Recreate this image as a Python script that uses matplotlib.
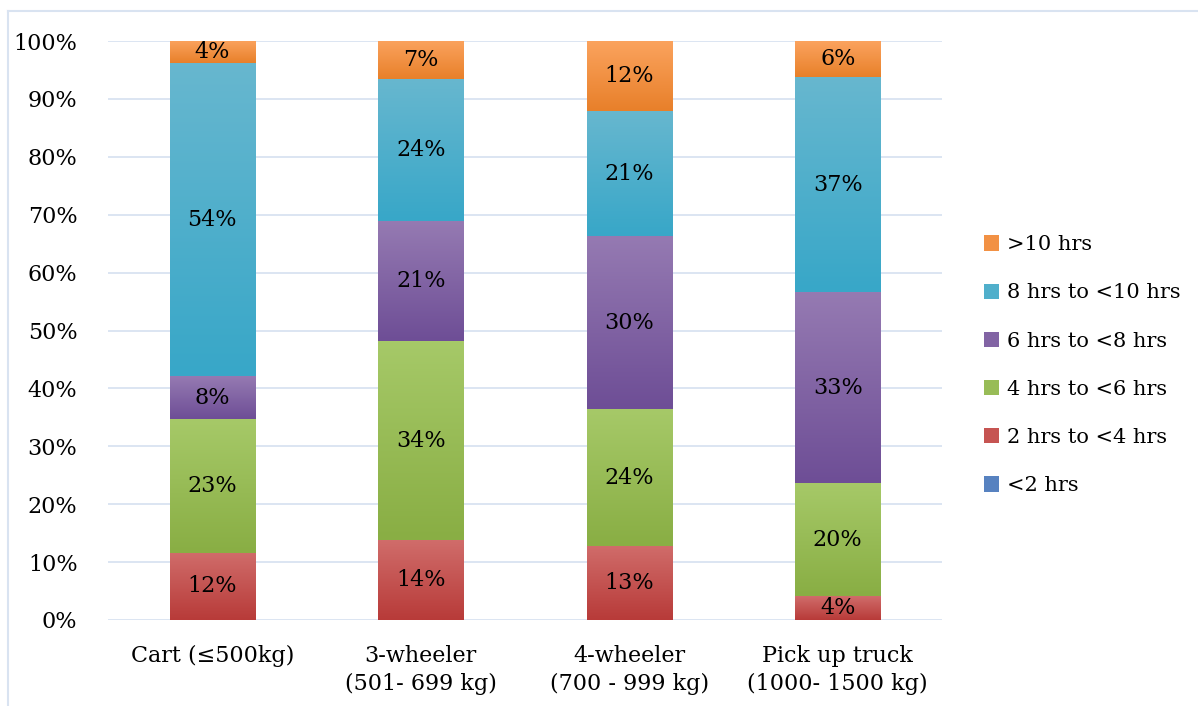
import matplotlib.pyplot as plt
import matplotlib
import numpy as np
from matplotlib.colors import LinearSegmentedColormap
from matplotlib.lines import Line2D
from matplotlib.patches import Patch

plt.rcParams['font.family'] = ['DejaVu Serif']

categories = ['Cart (≤500kg)', '3-wheeler\n(501- 699 kg)', '4-wheeler\n(700 - 999 kg)', 'Pick up truck\n(1000- 1500 kg)']
series = ['<2 hrs', '2 hrs to <4 hrs', '4 hrs to <6 hrs', '6 hrs to <8 hrs', '8 hrs to <10 hrs', '>10 hrs']
lt2 = [0, 0, 0, 0]
h2_4 = [11.6, 13.8, 12.8, 4.1]
h4_6 = [23.1, 34.4, 23.6, 19.6]
h6_8 = [7.4, 20.7, 29.9, 32.9]
h8_10 = [54.1, 24.5, 21.6, 37.2]
gt10 = [3.8, 6.6, 12.1, 6.2]
labels = [['', '', '', ''],
          ['12%', '14%', '13%', '4%'],
          ['23%', '34%', '24%', '20%'],
          ['8%', '21%', '30%', '33%'],
          ['54%', '24%', '21%', '37%'],
          ['4%', '7%', '12%', '6%']]

# (top colour, bottom colour) for the Excel-like gradient
grads = [('#6F97D0', '#3F6FB0'),
         ('#D06C6A', '#B83B39'),
         ('#A6C968', '#89AE44'),
         ('#957AB2', '#6E4E96'),
         ('#67B7CF', '#38A7C8'),
         ('#FBA35E', '#E8802A')]
mids = ['#5782C0', '#C65452', '#98BC57', '#8264A4', '#50AFCB', '#F29144']

fig = plt.figure(figsize=(11.98, 7.06), dpi=100)
ax = fig.add_axes([108/1198, 86/706, 834/1198, 579/706])

data = [lt2, h2_4, h4_6, h6_8, h8_10, gt10]
x = np.arange(len(categories))
bottom = np.zeros(len(categories))
width = 0.41
for i, vals in enumerate(data):
    vals = np.array(vals) / 100.0
    top_c, bot_c = grads[i]
    bars = ax.bar(x, vals, width, bottom=bottom, color=bot_c, zorder=2)
    cmap = LinearSegmentedColormap.from_list('g%d' % i, [bot_c, top_c])
    for j, b in enumerate(bars):
        if vals[j] <= 0:
            continue
        x0 = b.get_x()
        y0 = b.get_y()
        im = ax.imshow(np.linspace(0, 1, 64).reshape(-1, 1), cmap=cmap, origin='lower',
                       extent=[x0, x0 + b.get_width(), y0, y0 + b.get_height()],
                       aspect='auto', zorder=3, interpolation='bilinear')
        im.set_clip_path(b)
        if labels[i][j]:
            ax.text(x[j], y0 + b.get_height() / 2, labels[i][j], ha='center', va='center',
                    fontsize=16, color='#000000', zorder=4)
    bottom += vals

ax.set_xlim(-0.5, 3.5)
ax.set_ylim(0, 1)
ax.set_yticks(np.arange(0, 1.01, 0.1))
ax.set_yticklabels(['%d%%' % v for v in range(0, 101, 10)], fontsize=16)
ax.set_xticks(x)
ax.set_xticklabels(categories, fontsize=16, linespacing=1.35)
ax.tick_params(length=0, pad=18)
ax.tick_params(axis='y', pad=22)
ax.grid(axis='y', color='#D9E3F1', lw=1.3, zorder=0)
for s in ax.spines.values():
    s.set_visible(False)

handles = [Patch(facecolor=c) for c in mids[::-1]]
leg = ax.legend(handles, series[::-1], loc='center left', bbox_to_anchor=(1.04, 0.44),
                borderaxespad=0, frameon=False, fontsize=15, handlelength=0.75,
                handleheight=0.75, handletextpad=0.35, labelspacing=1.4)

fig.add_artist(Line2D([8/1198, 8/1198], [0, 1 - 11/706], color='#D9E3F1', lw=1.5, transform=fig.transFigure))
fig.add_artist(Line2D([8/1198, 1], [1 - 11/706, 1 - 11/706], color='#D9E3F1', lw=1.5, transform=fig.transFigure))

fig.savefig('out.png', dpi=100)
